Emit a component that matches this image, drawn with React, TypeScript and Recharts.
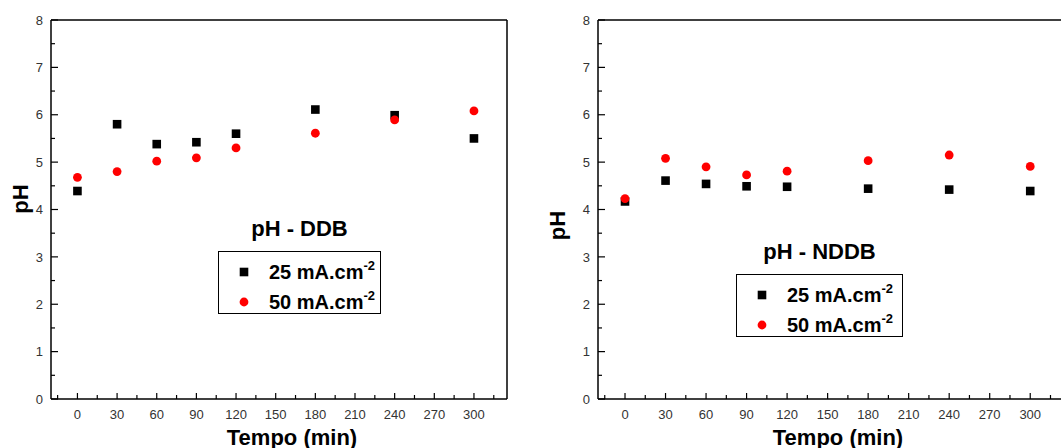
import React from 'react';
import { ScatterChart, Scatter, XAxis, YAxis, ReferenceLine, Legend } from 'recharts';

// tempo (min) e valores de pH
const tempo = [0, 30, 60, 90, 120, 180, 240, 300];
const ddb25 = [4.39, 5.8, 5.38, 5.42, 5.6, 6.11, 5.99, 5.5];
const ddb50 = [4.68, 4.8, 5.02, 5.09, 5.3, 5.61, 5.89, 6.08];
const nddb25 = [4.17, 4.61, 4.54, 4.49, 4.48, 4.44, 4.42, 4.39];
const nddb50 = [4.23, 5.08, 4.9, 4.73, 4.81, 5.03, 5.15, 4.91];

const seriesNames = ['25 mA.cm', '50 mA.cm'];
const unitSup = '-2';

const xTicks = [-15, 0, 15, 30, 45, 60, 75, 90, 105, 120, 135, 150, 165, 180, 195, 210, 225, 240, 255, 270, 285, 300, 315];
const yTicks = [0, 0.5, 1, 1.5, 2, 2.5, 3, 3.5, 4, 4.5, 5, 5.5, 6, 6.5, 7, 7.5, 8];

const FONT = '"Liberation Sans", Arial, Helvetica, sans-serif';

const toPoints = (vals: number[]) => tempo.map((t, i) => ({ t, ph: vals[i] }));

const XTick = (props: any) => {
  const { x, y, payload } = props;
  const v = payload.value;
  const major = v % 30 === 0;
  return (
    <g>
      <line x1={x} x2={x} y1={y} y2={y - (major ? 6 : 4)} stroke="#000" strokeWidth={1.2} />
      {major && v >= 0 && v <= 300 && (
        <text x={x} y={y + 11} dy="0.71em" textAnchor="middle" fontSize={13} fill="#333">
          {v}
        </text>
      )}
    </g>
  );
};

const YTick = (props: any) => {
  const { x, y, payload } = props;
  const v = payload.value;
  const major = Number.isInteger(v);
  return (
    <g>
      <line x1={x} x2={x + (major ? 7 : 4)} y1={y} y2={y} stroke="#000" strokeWidth={1.2} />
      {major && (
        <text x={x - 8} y={y} dy="0.36em" textAnchor="end" fontSize={13} fill="#333">
          {v}
        </text>
      )}
    </g>
  );
};

const squareShape = (p: any) => (
  <rect x={p.cx - 4.3} y={p.cy - 4.3} width={8.6} height={8.6} fill="#000" />
);
const circleShape = (p: any) => <circle cx={p.cx} cy={p.cy} r={4.4} fill="#ff0000" />;

const makeLegend = (title: string, width: number) => (props: any) => {
  const { payload } = props;
  return (
    <div
      style={{
        position: 'relative',
        width,
        height: 63,
        boxSizing: 'border-box',
        border: '1px solid #000',
        paddingTop: 5,
        background: '#fff',
        fontFamily: FONT,
      }}
    >
      <div
        style={{
          position: 'absolute',
          bottom: 'calc(100% + 12px)',
          left: 0,
          width: '100%',
          textAlign: 'center',
          fontSize: 22,
          lineHeight: '22px',
          fontWeight: 'bold',
          whiteSpace: 'nowrap',
          color: '#000',
        }}
      >
        {title}
      </div>
      {(payload || []).map((entry: any, i: number) => (
        <div key={i} style={{ display: 'flex', alignItems: 'center', height: 30 }}>
          <svg width={50} height={30} style={{ display: 'block', flex: 'none' }}>
            {entry.type === 'square' ? (
              <rect x={20.7} y={10.7} width={8.6} height={8.6} fill="#000" />
            ) : (
              <circle cx={25} cy={15} r={4.4} fill="#ff0000" />
            )}
          </svg>
          <span style={{ fontSize: 20, fontWeight: 'bold', color: '#000', whiteSpace: 'nowrap', lineHeight: '30px' }}>
            {entry.value}
            <span style={{ fontSize: 13, verticalAlign: '9px', lineHeight: 0 }}>{unitSup}</span>
          </span>
        </div>
      ))}
    </div>
  );
};

type PanelProps = {
  title: string;
  s25: number[];
  s50: number[];
  width: number;
  yAxisWidth: number;
  marginRight: number;
  legendLeft: number;
  legendTop: number;
  legendWidth: number;
  yTitleX: number;
  yTitleDy: number;
  xTitleDx: number;
};

const Panel = (p: PanelProps) => {
  const yTitle = (lp: any) => {
    const vb = lp.viewBox;
    const x = vb.x + p.yTitleX;
    const y = vb.y + vb.height / 2 + p.yTitleDy;
    return (
      <text
        x={x}
        y={y}
        transform={`rotate(-90 ${x} ${y})`}
        textAnchor="middle"
        fontSize={22}
        fontWeight="bold"
        fill="#000"
      >
        pH
      </text>
    );
  };
  return (
    <ScatterChart
      width={p.width}
      height={448}
      margin={{ top: 20, right: p.marginRight, left: 0, bottom: 0 }}
      style={{ fontFamily: FONT }}
    >
      <XAxis
        type="number"
        dataKey="t"
        domain={[-20, 325]}
        allowDataOverflow
        ticks={xTicks}
        interval={0}
        height={49}
        tickSize={0}
        tickMargin={0}
        tickLine={false}
        axisLine={{ stroke: '#000', strokeWidth: 1.5 }}
        tick={(tp: any) => <XTick {...tp} />}
        label={{
          value: 'Tempo (min)',
          position: 'insideBottom',
          offset: 3,
          dx: p.xTitleDx,
          fontSize: 22,
          fontWeight: 'bold',
          fill: '#000',
        }}
      />
      <YAxis
        type="number"
        dataKey="ph"
        domain={[0, 8]}
        allowDataOverflow
        ticks={yTicks}
        interval={0}
        width={p.yAxisWidth}
        tickSize={0}
        tickMargin={0}
        tickLine={false}
        axisLine={{ stroke: '#000', strokeWidth: 1.5 }}
        tick={(tp: any) => <YTick {...tp} />}
        label={{ content: yTitle }}
      />
      <ReferenceLine y={8} stroke="#000" strokeWidth={1.5} />
      <ReferenceLine x={325} stroke="#000" strokeWidth={1.5} />
      <Legend
        layout="vertical"
        align="center"
        verticalAlign="middle"
        content={makeLegend(p.title, p.legendWidth)}
        wrapperStyle={{ left: p.legendLeft, top: p.legendTop, width: p.legendWidth }}
      />
      <Scatter
        name={seriesNames[0]}
        data={toPoints(p.s25)}
        legendType="square"
        fill="#000"
        shape={squareShape}
        isAnimationActive={false}
      />
      <Scatter
        name={seriesNames[1]}
        data={toPoints(p.s50)}
        legendType="circle"
        fill="#ff0000"
        shape={circleShape}
        isAnimationActive={false}
      />
    </ScatterChart>
  );
};

export default function App() {
  return (
    <div
      style={{
        position: 'absolute',
        left: 0,
        top: 0,
        width: 1061,
        height: 448,
        overflow: 'hidden',
        background: '#fff',
        fontFamily: FONT,
      }}
    >
      <div style={{ position: 'absolute', left: 0, top: 0 }}>
        <Panel
          title="pH - DDB"
          s25={ddb25}
          s50={ddb50}
          width={540}
          yAxisWidth={51}
          marginRight={33}
          legendLeft={218}
          legendTop={251}
          legendWidth={163}
          yTitleX={28}
          yTitleDy={-10.5}
          xTitleDx={13}
        />
      </div>
      <div style={{ position: 'absolute', left: 530, top: 0 }}>
        <Panel
          title="pH - NDDB"
          s25={nddb25}
          s50={nddb50}
          width={534}
          yAxisWidth={68}
          marginRight={0}
          legendLeft={206}
          legendTop={274}
          legendWidth={167}
          yTitleX={35}
          yTitleDy={16}
          xTitleDx={7}
        />
      </div>
    </div>
  );
}
